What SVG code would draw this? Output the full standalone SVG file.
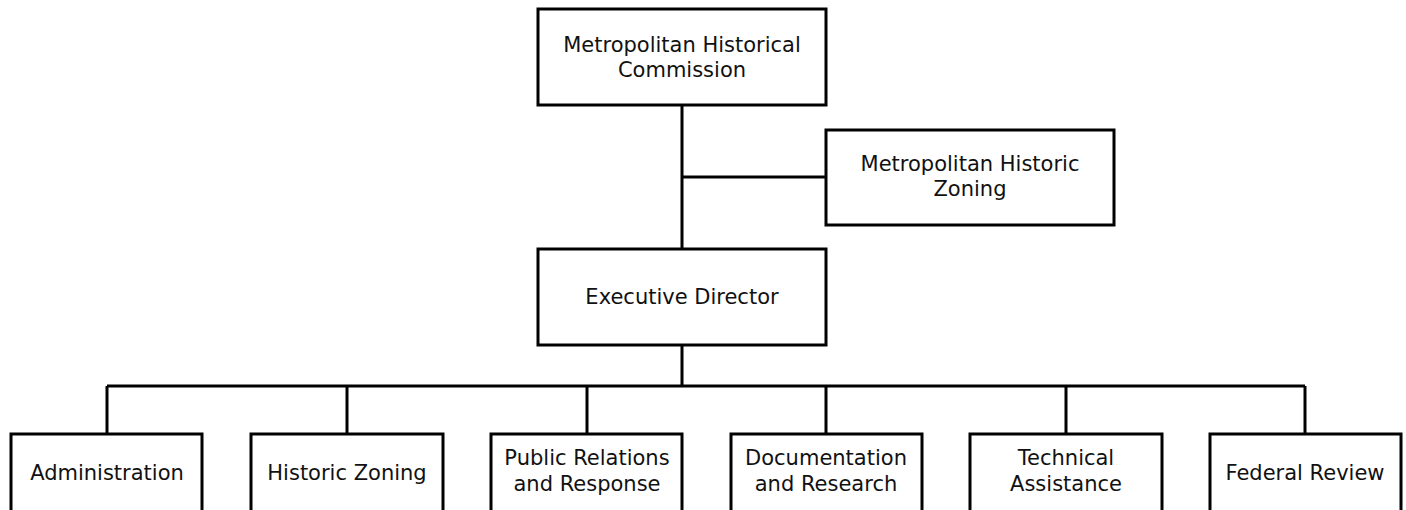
<svg xmlns="http://www.w3.org/2000/svg" width="1406" height="510" viewBox="0 0 1406 510">
<style>
.box{fill:#fff;stroke:#000;stroke-width:3}
.ln{stroke:#000;stroke-width:3;fill:none}
text{font-family:"DejaVu Sans",Verdana,sans-serif;font-size:21px;fill:#111;text-anchor:middle}
</style>
<rect width="1406" height="510" fill="#fff"/>
<g id="connectors">
<path class="ln" d="M682,105V249M682,177H826M682,345V386M107,386H1305M107,386V434M347,386V434M587,386V434M826,386V434M1066,386V434M1305,386V434"/>
</g>
<g id="commission"><rect class="box" x="538" y="9" width="288" height="96"/><text x="682" y="52">Metropolitan Historical</text><text x="682" y="77">Commission</text></g>
<g id="zoning-commission"><rect class="box" x="826" y="130" width="288" height="95"/><text x="970" y="171">Metropolitan Historic</text><text x="970" y="196">Zoning</text></g>
<g id="executive"><rect class="box" x="538" y="249" width="288" height="96"/><text x="682" y="304">Executive Director</text></g>
<g id="administration"><rect class="box" x="11" y="434" width="191" height="96"/><text x="107" y="480">Administration</text></g>
<g id="historic-zoning"><rect class="box" x="251" y="434" width="192" height="96"/><text x="347" y="480">Historic Zoning</text></g>
<g id="public-relations"><rect class="box" x="491" y="434" width="191" height="96"/><text x="587" y="465">Public Relations</text><text x="587" y="491">and Response</text></g>
<g id="documentation"><rect class="box" x="731" y="434" width="191" height="96"/><text x="826" y="465">Documentation</text><text x="826" y="491">and Research</text></g>
<g id="technical"><rect class="box" x="970" y="434" width="192" height="96"/><text x="1066" y="465">Technical</text><text x="1066" y="491">Assistance</text></g>
<g id="federal"><rect class="box" x="1210" y="434" width="191" height="96"/><text x="1305" y="480">Federal Review</text></g>
</svg>
